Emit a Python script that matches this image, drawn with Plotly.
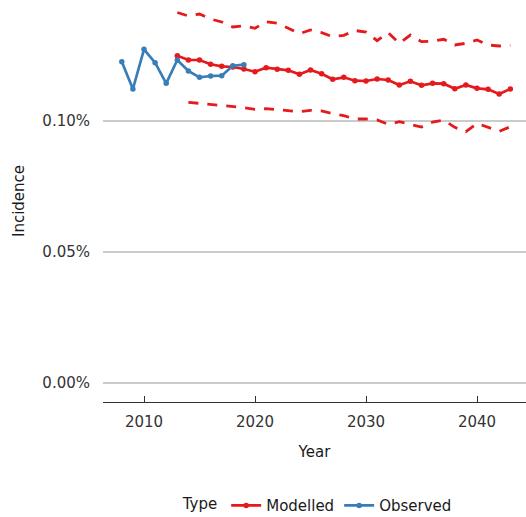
import plotly.graph_objects as go

# Observed incidence (fraction of population)
obs_years = list(range(2008, 2020))
obs_values = [0.0012263, 0.0011221, 0.0012737, 0.0012226, 0.0011439, 0.0012328,
              0.0011908, 0.0011668, 0.0011718, 0.0011729, 0.0012111, 0.0012149]

# Modelled incidence with lower / upper bounds
mod_years = list(range(2013, 2044))
mod_values = [0.0012492, 0.0012328, 0.0012328, 0.0012164, 0.0012088, 0.0012061,
              0.0011985, 0.0011882, 0.0012034, 0.0011973, 0.0011935, 0.0011782,
              0.0011947, 0.0011805, 0.0011592, 0.0011668, 0.0011538, 0.0011527,
              0.0011603, 0.0011565, 0.0011374, 0.0011515, 0.0011362, 0.0011439,
              0.0011424, 0.0011233, 0.0011374, 0.0011248, 0.0011210, 0.0011031,
              0.0011221]
upper_values = [0.0014141, 0.0014008, 0.0014084, 0.0013893, 0.0013779, 0.0013588,
                0.0013637, 0.0013538, 0.0013790, 0.0013729, 0.0013538, 0.0013332,
                0.0013473, 0.0013370, 0.0013218, 0.0013271, 0.0013454, 0.0013397,
                0.0013065, 0.0013370, 0.0012966, 0.0013282, 0.0013027, 0.0013053,
                0.0013118, 0.0012901, 0.0012966, 0.0013092, 0.0012901, 0.0012863,
                0.0012889]
lower_years = list(range(2014, 2044))
lower_values = [0.0010714, 0.0010676, 0.0010622, 0.0010599, 0.0010561, 0.0010508,
                0.0010447, 0.0010469, 0.0010431, 0.0010382, 0.0010355, 0.0010408,
                0.0010382, 0.0010279, 0.0010202, 0.0010076, 0.0010076, 0.0010038,
                0.0009874, 0.0009973, 0.0009885, 0.0009771, 0.0009962, 0.0010038,
                0.0009759, 0.0009592, 0.0009912, 0.0009759, 0.0009607, 0.0009782]

RED = "#E41A1C"
BLUE = "#377EB8"
FONT = "DejaVu Sans"
FS = 15

fig = go.Figure()

dash_style = dict(color=RED, width=2.8, dash="10px,9px")
fig.add_trace(go.Scatter(x=mod_years, y=upper_values, mode="lines",
                         line=dash_style, showlegend=False, hoverinfo="skip"))
fig.add_trace(go.Scatter(x=lower_years, y=lower_values, mode="lines",
                         line=dash_style, showlegend=False, hoverinfo="skip"))

fig.add_trace(go.Scatter(x=mod_years, y=mod_values, mode="lines+markers",
                         name="Modelled", line=dict(color=RED, width=2.7),
                         marker=dict(color=RED, size=5.5)))
fig.add_trace(go.Scatter(x=obs_years, y=obs_values, mode="lines+markers",
                         name="Observed", line=dict(color=BLUE, width=2.7),
                         marker=dict(color=BLUE, size=5.5)))

fig.update_layout(
    width=526, height=517,
    margin=dict(l=103, r=0, t=0, b=115, autoexpand=False),
    plot_bgcolor="white", paper_bgcolor="white",
    font=dict(family=FONT, size=FS, color="#1a1a1a"),
    legend=dict(
        orientation="h", x=0.51, xanchor="center", y=-0.258, yanchor="middle",
        title=dict(text="Type", font=dict(size=FS)),
        font=dict(size=FS), itemwidth=30, traceorder="normal",
    ),
    xaxis=dict(
        range=[2006.306, 2044.414],
        tickvals=[2010, 2020, 2030, 2040],
        showgrid=False, zeroline=False,
        showline=True, linecolor="#333333", linewidth=1.2,
        ticks="inside", ticklen=6, tickcolor="#333333", tickwidth=1.2,
        tickfont=dict(size=FS, color="#333333"),
        ticklabelstandoff=6,
        title=dict(text="Year", font=dict(size=FS, color="#1a1a1a"), standoff=16),
    ),
    yaxis=dict(
        range=[-0.00007252, 0.00146183],
        tickvals=[0, 0.0005, 0.001],
        tickformat=".2%",
        showgrid=True, gridcolor="#cbcbcb", gridwidth=2,
        zeroline=False, showline=False, ticks="",
        tickfont=dict(size=FS, color="#333333"),
        ticklabelstandoff=12,
        title=dict(text="Incidence", font=dict(size=FS, color="#1a1a1a"), standoff=14),
    ),
)

fig.write_html("out.html")
